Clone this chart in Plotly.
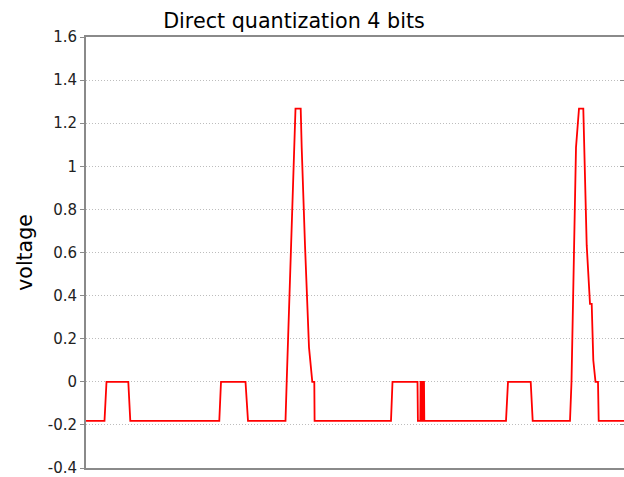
import plotly.graph_objects as go

# Sample index (horizontal) and quantized voltage values
sample = [0, 18.5, 20.5, 42.3, 44.3,
          133.3, 135, 159.5, 162,
          199.5, 200.7, 208.3, 209.5, 214.7, 215.7, 219, 223, 226.3, 227.3, 228.3, 228.6,
          305, 306.5, 331.5, 331.9, 334.3, 334.6, 335.5, 335.8, 337, 337.3, 338, 338.3, 339.5,
          420, 422, 444.7, 446.7,
          484, 485.5, 488.3, 490, 493, 497.3, 500.7, 504, 505.7, 507.3, 509.5, 512, 512.7,
          538]
voltage = [-0.181, -0.181, 0.0, 0.0, -0.181,
           -0.181, 0.0, 0.0, -0.181,
           -0.181, 0.0, 1.087, 1.268, 1.268, 1.087, 0.634, 0.16, 0.0, 0.0, 0.0, -0.181,
           -0.181, 0.0, 0.0, -0.181, -0.181, 0.0, 0.0, -0.181, -0.181, 0.0, 0.0, -0.181, -0.181,
           -0.181, 0.0, 0.0, -0.181,
           -0.181, 0.0, 0.634, 1.087, 1.268, 1.268, 0.634, 0.362, 0.362, 0.1, 0.0, 0.0, -0.181,
           -0.181]

ytick_vals = [-0.4, -0.2, 0, 0.2, 0.4, 0.6, 0.8, 1.0, 1.2, 1.4, 1.6]
ytick_text = ["-0.4", "-0.2", "0", "0.2", "0.4", "0.6", "0.8", "1", "1.2", "1.4", "1.6"]

FONT = "DejaVu Sans, Liberation Sans, Arial, sans-serif"

fig = go.Figure()
fig.add_trace(go.Scatter(x=sample, y=voltage, mode="lines",
                         line=dict(color="#ff0000", width=1.8),
                         showlegend=False, hoverinfo="skip"))

fig.update_layout(
    width=624, height=477,
    margin=dict(l=86, r=0, t=37, b=9),
    paper_bgcolor="white", plot_bgcolor="white",
    font=dict(family=FONT, color="black"),
    title=dict(text="Direct quantization 4 bits", x=294 / 624, xref="container",
               xanchor="center", y=1 - 20.5 / 477, yanchor="middle",
               font=dict(family=FONT, size=20.7, color="black")),
    xaxis=dict(range=[0, 538], showticklabels=False, ticks="", showgrid=False,
               zeroline=False, showline=True, linecolor="#8a8a8a", linewidth=2,
               mirror=True),
    yaxis=dict(range=[-0.4, 1.6], tickvals=ytick_vals, ticktext=ytick_text,
               ticklabeloverflow="allow",
               showgrid=True, gridcolor="#bdbdbd", griddash="1px,2px", gridwidth=1,
               zeroline=False, showline=True, linecolor="#8a8a8a", linewidth=2,
               ticks="outside", ticklen=4, tickcolor="#8a8a8a",
               tickfont=dict(family=FONT, size=15, color="#222"),
               title=dict(text="voltage", standoff=10,
                          font=dict(family=FONT, size=20.5, color="black"))),
    yaxis2=dict(range=[-0.4, 1.6], tickvals=ytick_vals, overlaying="y", side="right",
                showticklabels=False, showgrid=False, zeroline=False, showline=False,
                ticks="inside", ticklen=4, tickcolor="#8a8a8a"),
)
fig.add_trace(go.Scatter(x=[None], y=[None], yaxis="y2", showlegend=False, hoverinfo="skip"))

fig.write_html("out.html")
